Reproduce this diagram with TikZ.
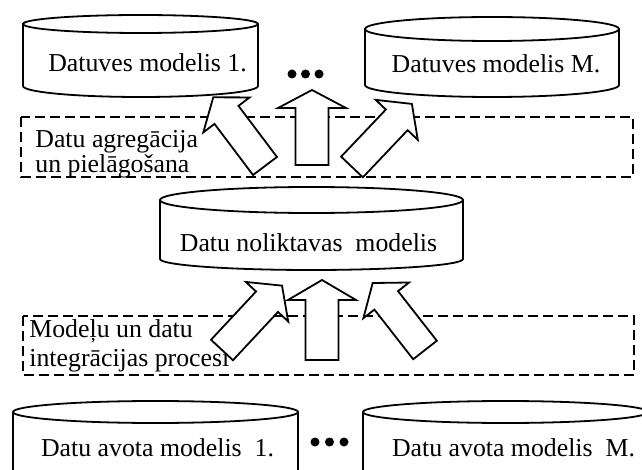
\documentclass[tikz,border=0pt]{standalone}
\usepackage{fontspec}
\setmainfont{Liberation Serif}
\newcommand\blockarrow[7]{%
  \begin{scope}[shift={(#1,#2)},rotate=#3]
    \draw[arrowbody] (-#5,0) -- (-#5,{-(#4-#7)}) -- (-#6,{-(#4-#7)}) -- (0,-#4)
      -- (#6,{-(#4-#7)}) -- (#5,{-(#4-#7)}) -- (#5,0) -- cycle;
  \end{scope}}
\newcommand\cylshape[6]{%
  \draw[cylline] (#1,#3) ellipse [x radius=#2, y radius=#4];
  \draw[cylline] ({#1-#2},#3) -- ({#1-#2},#5)
    arc[start angle=180, end angle=0, x radius=#2, y radius=#6] -- ({#1+#2},#3);}
\begin{document}
\begin{tikzpicture}[x=0.5pt,y=-0.5pt,
  cylline/.style={line width=0.9pt},
  arrowbody/.style={line width=0.9pt, fill=white, line join=miter},
  dashbox/.style={line width=0.75pt, dash pattern=on 5pt off 2.5pt},
  lbl/.style={inner sep=0pt, font=\fontsize{12.9}{15}\selectfont},
  dot/.style={fill=black}]
\clip (0,0) rectangle (642,470);
\fill[white] (0,0) rectangle (642,470);
% dashed boxes
\draw[dashbox] (21,117) rectangle (633,177);
\draw[dashbox] (23,316) rectangle (634,375);
\node[lbl, anchor=base west] (agr1) at (35,148) {Datu agregācija};
\node[lbl, anchor=base west] (agr2) at (35,173) {un pielāgošana};
\node[lbl, anchor=base west] (int1) at (29,337) {Modeļu un datu};
\node[lbl, anchor=base west] (int2) at (29,366) {integrācijas procesi};
% cylinders
\cylshape{140.5}{117.5}{24}{9}{86}{11}
\cylshape{492}{127}{29}{12}{85}{12}
\cylshape{311.5}{151.5}{200}{13}{259}{11}
\cylshape{155.5}{142.5}{412}{11}{490}{11}
\cylshape{505.5}{142.5}{412}{11}{490}{11}
\node[lbl, anchor=base] (dm1) at (147.5,72) {Datuves modelis 1.};
\node[lbl, anchor=base] (dmM) at (496,73) {Datuves modelis M.};
\node[lbl, anchor=base] (dn) at (308.5,251) {Datu noliktavas\ \ modelis};
\node[lbl, anchor=base] (da1) at (157.5,456) {Datu avota modelis\ \ 1.};
\node[lbl, anchor=base] (daM) at (513.5,456) {Datu avota modelis\ \ M.};
% dots
\foreach \cx in {292,305.5,319} \fill[dot] (\cx,74) circle [radius=4.5];
\foreach \cx in {315,329.5,344} \fill[dot] (\cx,442) circle [radius=4.5];
% block arrows (upper)
\blockarrow{265}{166}{37}{86}{15}{29}{22}
\blockarrow{312}{165}{0}{75}{16.5}{34}{18}
\blockarrow{352}{167}{-43.5}{87}{15}{29}{22}
% block arrows (lower)
\blockarrow{222}{350}{-43}{88}{15}{29}{22}
\blockarrow{322}{360}{0}{80}{16.5}{34}{20}
\blockarrow{425}{350}{38}{85}{15}{29}{22}
\end{tikzpicture}
\end{document}
